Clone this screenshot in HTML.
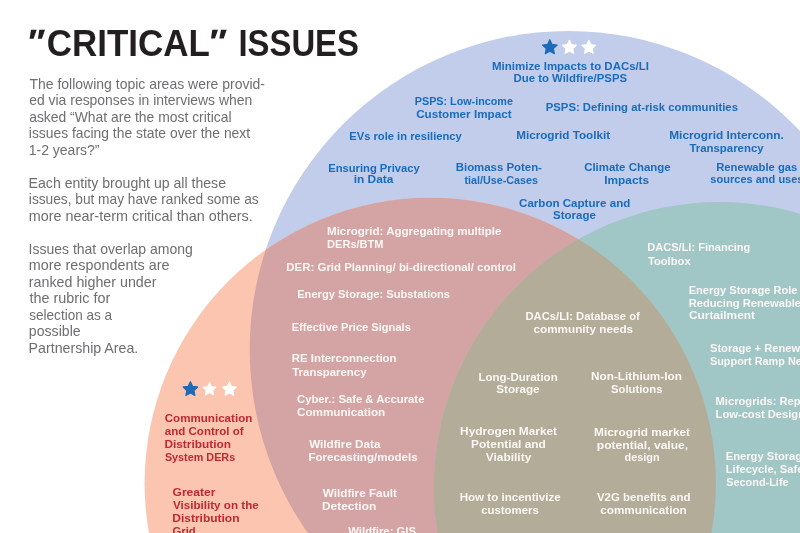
<!DOCTYPE html>
<html><head><meta charset="utf-8"><style>
html,body{margin:0;padding:0;background:#fff;width:800px;height:533px;overflow:hidden}
svg{display:block;will-change:transform}
text{font-family:"Liberation Sans",sans-serif}
</style></head><body>
<svg width="800" height="533" viewBox="0 0 800 533">
<defs>
<clipPath id="cs"><circle cx="430.2" cy="483.3" r="285.6"/></clipPath>
</defs>
<rect width="800" height="533" fill="#ffffff"/>
<circle cx="568.2" cy="349.5" r="318.5" fill="#c1cdea"/>
<circle cx="430.2" cy="483.3" r="285.6" fill="#fbc5b0"/>
<circle cx="568.2" cy="349.5" r="318.5" fill="#d4a4a5" clip-path="url(#cs)"/>
<circle cx="719.2" cy="487.4" r="285.3" fill="#a1c6c6"/>
<circle cx="719.2" cy="487.4" r="285.3" fill="#b2ac98" clip-path="url(#cs)"/>
<polygon points="549.80,39.80 552.01,44.45 557.12,45.12 553.38,48.66 554.33,53.73 549.80,51.27 545.27,53.73 546.22,48.66 542.48,45.12 547.59,44.45" fill="#1c6cbb" stroke="#1c6cbb" stroke-width="1.2" stroke-linejoin="round"/><polygon points="569.40,40.30 571.47,44.65 576.25,45.28 572.75,48.59 573.63,53.32 569.40,51.02 565.17,53.32 566.05,48.59 562.55,45.28 567.33,44.65" fill="#ffffff" stroke="#ffffff" stroke-width="1.2" stroke-linejoin="round"/><polygon points="588.80,40.30 590.87,44.65 595.65,45.28 592.15,48.59 593.03,53.32 588.80,51.02 584.57,53.32 585.45,48.59 581.95,45.28 586.73,44.65" fill="#ffffff" stroke="#ffffff" stroke-width="1.2" stroke-linejoin="round"/><polygon points="190.40,381.70 192.59,386.29 197.63,386.95 193.94,390.45 194.87,395.45 190.40,393.02 185.93,395.45 186.86,390.45 183.17,386.95 188.21,386.29" fill="#1c6cbb" stroke="#1c6cbb" stroke-width="1.2" stroke-linejoin="round"/><polygon points="209.50,382.70 211.40,386.69 215.78,387.26 212.57,390.30 213.38,394.64 209.50,392.53 205.62,394.64 206.43,390.30 203.22,387.26 207.60,386.69" fill="#ffffff" stroke="#ffffff" stroke-width="1.2" stroke-linejoin="round"/><polygon points="229.40,382.10 231.47,386.45 236.25,387.08 232.75,390.39 233.63,395.12 229.40,392.82 225.17,395.12 226.05,390.39 222.55,387.08 227.33,386.45" fill="#ffffff" stroke="#ffffff" stroke-width="1.2" stroke-linejoin="round"/>
<polygon points="31.0,29.8 36.7,29.8 33.6,38.7 29.6,38.7" fill="#231f20"/><polygon points="39.3,29.8 45.0,29.8 41.9,38.7 37.9,38.7" fill="#231f20"/><polygon points="212.3,29.8 218.0,29.8 214.95,38.6 211.0,38.6" fill="#231f20"/><polygon points="220.95,29.8 226.65,29.8 223.7,38.6 219.4,38.6" fill="#231f20"/>
<text x="492.00" y="70.30" fill="#196cbd" font-size="11.45" font-weight="bold" textLength="157.03" lengthAdjust="spacingAndGlyphs">Minimize Impacts to DACs/LI</text>
<text x="513.61" y="82.30" fill="#196cbd" font-size="11.45" font-weight="bold" textLength="113.46" lengthAdjust="spacingAndGlyphs">Due to Wildfire/PSPS</text>
<text x="414.80" y="104.50" fill="#196cbd" font-size="11.45" font-weight="bold" textLength="98.10" lengthAdjust="spacingAndGlyphs">PSPS: Low-income</text>
<text x="416.16" y="117.50" fill="#196cbd" font-size="11.45" font-weight="bold" textLength="95.38" lengthAdjust="spacingAndGlyphs">Customer Impact</text>
<text x="545.77" y="111.10" fill="#196cbd" font-size="11.45" font-weight="bold" textLength="192.17" lengthAdjust="spacingAndGlyphs">PSPS: Defining at-risk communities</text>
<text x="349.27" y="139.50" fill="#196cbd" font-size="11.45" font-weight="bold" textLength="112.49" lengthAdjust="spacingAndGlyphs">EVs role in resiliency</text>
<text x="516.24" y="139.30" fill="#196cbd" font-size="11.45" font-weight="bold" textLength="93.80" lengthAdjust="spacingAndGlyphs">Microgrid Toolkit</text>
<text x="669.23" y="139.40" fill="#196cbd" font-size="11.45" font-weight="bold" textLength="114.57" lengthAdjust="spacingAndGlyphs">Microgrid Interconn.</text>
<text x="689.39" y="152.40" fill="#196cbd" font-size="11.45" font-weight="bold" textLength="74.21" lengthAdjust="spacingAndGlyphs">Transparency</text>
<text x="328.22" y="171.50" fill="#196cbd" font-size="11.45" font-weight="bold" textLength="91.48" lengthAdjust="spacingAndGlyphs">Ensuring Privacy</text>
<text x="353.67" y="183.40" fill="#196cbd" font-size="11.45" font-weight="bold" textLength="39.70" lengthAdjust="spacingAndGlyphs">in Data</text>
<text x="455.76" y="171.00" fill="#196cbd" font-size="11.45" font-weight="bold" textLength="86.17" lengthAdjust="spacingAndGlyphs">Biomass Poten-</text>
<text x="464.39" y="183.60" fill="#196cbd" font-size="11.45" font-weight="bold" textLength="73.56" lengthAdjust="spacingAndGlyphs">tial/Use-Cases</text>
<text x="584.19" y="171.00" fill="#196cbd" font-size="11.45" font-weight="bold" textLength="86.38" lengthAdjust="spacingAndGlyphs">Climate Change</text>
<text x="604.28" y="183.60" fill="#196cbd" font-size="11.45" font-weight="bold" textLength="44.74" lengthAdjust="spacingAndGlyphs">Impacts</text>
<text x="716.17" y="170.70" fill="#196cbd" font-size="11.45" font-weight="bold" textLength="81.18" lengthAdjust="spacingAndGlyphs">Renewable gas</text>
<text x="710.36" y="183.30" fill="#196cbd" font-size="11.45" font-weight="bold" textLength="93.16" lengthAdjust="spacingAndGlyphs">sources and uses</text>
<text x="519.04" y="207.00" fill="#196cbd" font-size="11.45" font-weight="bold" textLength="111.24" lengthAdjust="spacingAndGlyphs">Carbon Capture and</text>
<text x="553.06" y="219.00" fill="#196cbd" font-size="11.45" font-weight="bold" textLength="42.78" lengthAdjust="spacingAndGlyphs">Storage</text>
<text x="327.05" y="234.50" fill="#fbf7f5" font-size="11.45" font-weight="bold" textLength="174.35" lengthAdjust="spacingAndGlyphs">Microgrid: Aggregating multiple</text>
<text x="327.08" y="247.50" fill="#fbf7f5" font-size="11.45" font-weight="bold" textLength="56.45" lengthAdjust="spacingAndGlyphs">DERs/BTM</text>
<text x="286.36" y="270.90" fill="#fbf7f5" font-size="11.45" font-weight="bold" textLength="229.50" lengthAdjust="spacingAndGlyphs">DER: Grid Planning/ bi-directional/ control</text>
<text x="297.18" y="297.90" fill="#fbf7f5" font-size="11.45" font-weight="bold" textLength="152.87" lengthAdjust="spacingAndGlyphs">Energy Storage: Substations</text>
<text x="291.68" y="330.70" fill="#fbf7f5" font-size="11.45" font-weight="bold" textLength="119.19" lengthAdjust="spacingAndGlyphs">Effective Price Signals</text>
<text x="291.66" y="362.20" fill="#fbf7f5" font-size="11.45" font-weight="bold" textLength="104.96" lengthAdjust="spacingAndGlyphs">RE Interconnection</text>
<text x="292.29" y="375.70" fill="#fbf7f5" font-size="11.45" font-weight="bold" textLength="74.21" lengthAdjust="spacingAndGlyphs">Transparency</text>
<text x="297.05" y="403.40" fill="#fbf7f5" font-size="11.45" font-weight="bold" textLength="127.36" lengthAdjust="spacingAndGlyphs">Cyber.: Safe &amp; Accurate</text>
<text x="297.03" y="415.80" fill="#fbf7f5" font-size="11.45" font-weight="bold" textLength="88.18" lengthAdjust="spacingAndGlyphs">Communication</text>
<text x="309.20" y="447.70" fill="#fbf7f5" font-size="11.45" font-weight="bold" textLength="71.22" lengthAdjust="spacingAndGlyphs">Wildfire Data</text>
<text x="308.45" y="460.80" fill="#fbf7f5" font-size="11.45" font-weight="bold" textLength="109.24" lengthAdjust="spacingAndGlyphs">Forecasting/models</text>
<text x="322.80" y="496.90" fill="#fbf7f5" font-size="11.45" font-weight="bold" textLength="74.17" lengthAdjust="spacingAndGlyphs">Wildfire Fault</text>
<text x="322.03" y="509.70" fill="#fbf7f5" font-size="11.45" font-weight="bold" textLength="54.20" lengthAdjust="spacingAndGlyphs">Detection</text>
<text x="348.30" y="534.50" fill="#fbf7f5" font-size="11.45" font-weight="bold" textLength="67.71" lengthAdjust="spacingAndGlyphs">Wildfire: GIS</text>
<text x="525.47" y="320.10" fill="#fbf7f5" font-size="11.45" font-weight="bold" textLength="114.32" lengthAdjust="spacingAndGlyphs">DACs/LI: Database of</text>
<text x="533.53" y="333.00" fill="#fbf7f5" font-size="11.45" font-weight="bold" textLength="99.56" lengthAdjust="spacingAndGlyphs">community needs</text>
<text x="478.50" y="380.50" fill="#fbf7f5" font-size="11.45" font-weight="bold" textLength="79.16" lengthAdjust="spacingAndGlyphs">Long-Duration</text>
<text x="496.30" y="392.60" fill="#fbf7f5" font-size="11.45" font-weight="bold" textLength="43.29" lengthAdjust="spacingAndGlyphs">Storage</text>
<text x="591.03" y="380.00" fill="#fbf7f5" font-size="11.45" font-weight="bold" textLength="90.87" lengthAdjust="spacingAndGlyphs">Non-Lithium-Ion</text>
<text x="611.06" y="392.60" fill="#fbf7f5" font-size="11.45" font-weight="bold" textLength="51.39" lengthAdjust="spacingAndGlyphs">Solutions</text>
<text x="460.13" y="435.40" fill="#fbf7f5" font-size="11.45" font-weight="bold" textLength="96.93" lengthAdjust="spacingAndGlyphs">Hydrogen Market</text>
<text x="471.13" y="448.10" fill="#fbf7f5" font-size="11.45" font-weight="bold" textLength="74.73" lengthAdjust="spacingAndGlyphs">Potential and</text>
<text x="485.69" y="461.30" fill="#fbf7f5" font-size="11.45" font-weight="bold" textLength="45.64" lengthAdjust="spacingAndGlyphs">Viability</text>
<text x="594.13" y="436.00" fill="#fbf7f5" font-size="11.45" font-weight="bold" textLength="95.93" lengthAdjust="spacingAndGlyphs">Microgrid market</text>
<text x="596.81" y="448.80" fill="#fbf7f5" font-size="11.45" font-weight="bold" textLength="91.40" lengthAdjust="spacingAndGlyphs">potential, value,</text>
<text x="624.56" y="461.20" fill="#fbf7f5" font-size="11.45" font-weight="bold" textLength="35.12" lengthAdjust="spacingAndGlyphs">design</text>
<text x="459.65" y="501.20" fill="#fbf7f5" font-size="11.45" font-weight="bold" textLength="101.00" lengthAdjust="spacingAndGlyphs">How to incentivize</text>
<text x="481.14" y="513.90" fill="#fbf7f5" font-size="11.45" font-weight="bold" textLength="57.74" lengthAdjust="spacingAndGlyphs">customers</text>
<text x="596.99" y="500.50" fill="#fbf7f5" font-size="11.45" font-weight="bold" textLength="93.49" lengthAdjust="spacingAndGlyphs">V2G benefits and</text>
<text x="600.33" y="513.50" fill="#fbf7f5" font-size="11.45" font-weight="bold" textLength="86.37" lengthAdjust="spacingAndGlyphs">communication</text>
<text x="647.28" y="251.40" fill="#fbf7f5" font-size="11.45" font-weight="bold" textLength="103.07" lengthAdjust="spacingAndGlyphs">DACS/LI: Financing</text>
<text x="647.89" y="264.60" fill="#fbf7f5" font-size="11.45" font-weight="bold" textLength="42.76" lengthAdjust="spacingAndGlyphs">Toolbox</text>
<text x="688.68" y="293.60" fill="#fbf7f5" font-size="11.45" font-weight="bold" textLength="121.72" lengthAdjust="spacingAndGlyphs">Energy Storage Role in</text>
<text x="688.67" y="306.60" fill="#fbf7f5" font-size="11.45" font-weight="bold" textLength="118.62" lengthAdjust="spacingAndGlyphs">Reducing Renewables</text>
<text x="688.92" y="319.40" fill="#fbf7f5" font-size="11.45" font-weight="bold" textLength="66.11" lengthAdjust="spacingAndGlyphs">Curtailment</text>
<text x="709.97" y="351.60" fill="#fbf7f5" font-size="11.45" font-weight="bold" textLength="132.19" lengthAdjust="spacingAndGlyphs">Storage + Renewables to</text>
<text x="709.97" y="364.70" fill="#fbf7f5" font-size="11.45" font-weight="bold" textLength="110.63" lengthAdjust="spacingAndGlyphs">Support Ramp Needs</text>
<text x="715.57" y="405.10" fill="#fbf7f5" font-size="11.45" font-weight="bold" textLength="122.96" lengthAdjust="spacingAndGlyphs">Microgrids: Replicable,</text>
<text x="715.57" y="418.20" fill="#fbf7f5" font-size="11.45" font-weight="bold" textLength="89.42" lengthAdjust="spacingAndGlyphs">Low-cost Design</text>
<text x="725.77" y="460.00" fill="#fbf7f5" font-size="11.45" font-weight="bold" textLength="82.61" lengthAdjust="spacingAndGlyphs">Energy Storage</text>
<text x="725.77" y="473.00" fill="#fbf7f5" font-size="11.45" font-weight="bold" textLength="89.87" lengthAdjust="spacingAndGlyphs">Lifecycle, Safety,</text>
<text x="726.17" y="486.10" fill="#fbf7f5" font-size="11.45" font-weight="bold" textLength="62.44" lengthAdjust="spacingAndGlyphs">Second-Life</text>
<text x="164.74" y="421.70" fill="#bf2a31" font-size="11.45" font-weight="bold" textLength="87.57" lengthAdjust="spacingAndGlyphs">Communication</text>
<text x="164.85" y="434.70" fill="#bf2a31" font-size="11.45" font-weight="bold" textLength="78.71" lengthAdjust="spacingAndGlyphs">and Control of</text>
<text x="164.43" y="448.10" fill="#bf2a31" font-size="11.45" font-weight="bold" textLength="66.49" lengthAdjust="spacingAndGlyphs">Distribution</text>
<text x="164.88" y="460.60" fill="#bf2a31" font-size="11.45" font-weight="bold" textLength="70.29" lengthAdjust="spacingAndGlyphs">System DERs</text>
<text x="172.52" y="495.80" fill="#bf2a31" font-size="11.45" font-weight="bold" textLength="42.83" lengthAdjust="spacingAndGlyphs">Greater</text>
<text x="172.94" y="508.80" fill="#bf2a31" font-size="11.45" font-weight="bold" textLength="85.79" lengthAdjust="spacingAndGlyphs">Visibility on the</text>
<text x="172.22" y="521.80" fill="#bf2a31" font-size="11.45" font-weight="bold" textLength="67.31" lengthAdjust="spacingAndGlyphs">Distribution</text>
<text x="172.55" y="534.80" fill="#bf2a31" font-size="11.45" font-weight="bold" textLength="23.19" lengthAdjust="spacingAndGlyphs">Grid</text>
<text x="29.47" y="88.50" fill="#6e6e70" font-size="13.9" font-weight="normal" textLength="235.51" lengthAdjust="spacingAndGlyphs">The following topic areas were provid-</text>
<text x="29.19" y="105.00" fill="#6e6e70" font-size="13.9" font-weight="normal" textLength="223.09" lengthAdjust="spacingAndGlyphs">ed via responses in interviews when</text>
<text x="29.19" y="121.50" fill="#6e6e70" font-size="13.9" font-weight="normal" textLength="202.32" lengthAdjust="spacingAndGlyphs">asked “What are the most critical</text>
<text x="28.85" y="138.00" fill="#6e6e70" font-size="13.9" font-weight="normal" textLength="221.27" lengthAdjust="spacingAndGlyphs">issues facing the state over the next</text>
<text x="28.70" y="154.50" fill="#6e6e70" font-size="13.9" font-weight="normal" textLength="70.83" lengthAdjust="spacingAndGlyphs">1-2 years?”</text>
<text x="28.62" y="187.50" fill="#6e6e70" font-size="13.9" font-weight="normal" textLength="197.40" lengthAdjust="spacingAndGlyphs">Each entity brought up all these</text>
<text x="28.86" y="204.00" fill="#6e6e70" font-size="13.9" font-weight="normal" textLength="229.84" lengthAdjust="spacingAndGlyphs">issues, but may have ranked some as</text>
<text x="28.81" y="220.50" fill="#6e6e70" font-size="13.9" font-weight="normal" textLength="223.90" lengthAdjust="spacingAndGlyphs">more near-term critical than others.</text>
<text x="28.49" y="253.50" fill="#6e6e70" font-size="13.9" font-weight="normal" textLength="164.41" lengthAdjust="spacingAndGlyphs">Issues that overlap among</text>
<text x="28.82" y="270.00" fill="#6e6e70" font-size="13.9" font-weight="normal" textLength="140.63" lengthAdjust="spacingAndGlyphs">more respondents are</text>
<text x="28.82" y="286.50" fill="#6e6e70" font-size="13.9" font-weight="normal" textLength="127.66" lengthAdjust="spacingAndGlyphs">ranked higher under</text>
<text x="29.53" y="303.00" fill="#6e6e70" font-size="13.9" font-weight="normal" textLength="80.73" lengthAdjust="spacingAndGlyphs">the rubric for</text>
<text x="29.34" y="319.50" fill="#6e6e70" font-size="13.9" font-weight="normal" textLength="82.65" lengthAdjust="spacingAndGlyphs">selection as a</text>
<text x="28.83" y="336.00" fill="#6e6e70" font-size="13.9" font-weight="normal" textLength="51.79" lengthAdjust="spacingAndGlyphs">possible</text>
<text x="28.61" y="352.50" fill="#6e6e70" font-size="13.9" font-weight="normal" textLength="109.69" lengthAdjust="spacingAndGlyphs">Partnership Area.</text>
<text x="46.80" y="55.90" fill="#231f20" font-size="37.8" font-weight="bold" textLength="163.08" lengthAdjust="spacingAndGlyphs">CRITICAL</text>
<text x="238.46" y="55.90" fill="#231f20" font-size="37.8" font-weight="bold" textLength="120.49" lengthAdjust="spacingAndGlyphs">ISSUES</text>
</svg>
</body></html>
